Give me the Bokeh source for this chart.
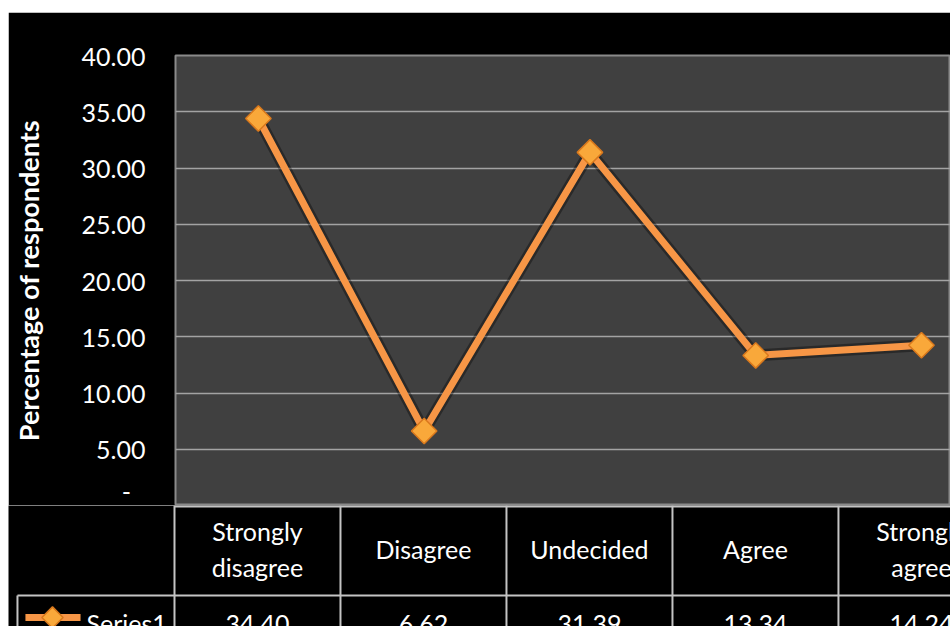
from bokeh.plotting import figure
from bokeh.layouts import row, column
from bokeh.models import Range1d, FixedTicker, Spacer, ColumnDataSource
from bokeh.core.properties import value
from bokeh.embed import file_html
from bokeh.resources import INLINE

# Survey responses
categories = ["Strongly disagree", "Disagree", "Undecided", "Agree", "Strongly agree"]
header_labels = ["Strongly\ndisagree", "Disagree", "Undecided", "Agree", "Strongly\nagree"]
series_name = "Series1"
values = [34.40, 6.62, 31.39, 13.34, 14.24]
value_labels = ["34.40", "6.62", "31.39", "13.34", "14.24"]
y_ticks = [0, 5, 10, 15, 20, 25, 30, 35, 40]
y_tick_labels = ["-\u2007", "5.00", "10.00", "15.00", "20.00", "25.00", "30.00", "35.00", "40.00"]

FONT = "Lato"
ORANGE = "#f79646"
GRID = "#a3a3a3"
TABLE_LINE = "#c4c4c4"

xs = [i + 0.5 for i in range(len(categories))]
src = ColumnDataSource(dict(x=xs, y=values, cat=categories, head=header_labels, lab=value_labels))

# ---- chart ----
p = figure(width=942, height=493, x_range=Range1d(0, 4.675), y_range=Range1d(0, 40),
           output_backend="svg", toolbar_location=None, x_axis_location=None,
           min_border_left=166, min_border_right=0, min_border_top=43, min_border_bottom=0,
           background_fill_color="#404040", border_fill_color="black",
           outline_line_color="#8a8a8a", outline_line_width=2, frame_align=False)
p.xgrid.visible = False
p.ygrid.ticker = FixedTicker(ticks=y_ticks[1:-1])
p.ygrid.grid_line_color = GRID
p.ygrid.grid_line_width = 1.5

ax = p.yaxis[0]
ax.ticker = FixedTicker(ticks=y_ticks)
ax.major_label_overrides = {t: s for t, s in zip(y_ticks, y_tick_labels)}
ax.axis_line_color = None
ax.major_tick_line_color = None
ax.minor_tick_line_color = None
ax.major_label_standoff = 24
ax.major_label_text_color = "white"
ax.major_label_text_font = FONT
ax.major_label_text_font_size = "25px"
ax.axis_label = "Percentage of respondents"
ax.axis_label_text_color = "white"
ax.axis_label_text_font = FONT
ax.axis_label_text_font_style = "bold"
ax.axis_label_text_font_size = "27px"
ax.axis_label_standoff = 34

# soft shadow under the series line
p.line("x", "y", source=src, line_color="black", line_width=12, line_alpha=0.35)
p.line("x", "y", source=src, line_color=ORANGE, line_width=7, line_join="miter")
p.scatter("x", "y", source=src, marker="square", angle=0.785, size=18,
          fill_color="#f9a83a", line_color="#d9781c", line_width=1.5)

# ---- data table beneath the chart ----
t = figure(width=942, height=121, x_range=Range1d(-1, 4.675), y_range=Range1d(121, 0),
           output_backend="svg", toolbar_location=None,
           x_axis_location=None, y_axis_location=None,
           min_border=0, background_fill_color="black", border_fill_color="black",
           outline_line_color=None, frame_align=False)
t.xgrid.visible = False
t.ygrid.visible = False

n = len(categories)
t.segment(x0=[0, -0.946], y0=[1, 90], x1=[4.675, 4.675], y1=[1, 90],
          line_color=TABLE_LINE, line_width=2)
t.segment(x0=list(range(n)), y0=[0] * n, x1=list(range(n)), y1=[121] * n,
          line_color=TABLE_LINE, line_width=2)
t.segment(x0=[-0.946], y0=[90], x1=[-0.946], y1=[121], line_color=TABLE_LINE, line_width=2)

t.text("x", 43, text="head", source=src, text_color="white", text_font=value(FONT),
       text_font_size="25px", text_align="center", text_baseline="middle",
       text_line_height=1.2)
t.text("x", 118, text="lab", source=src, text_color="white", text_font=value(FONT),
       text_font_size="25px", text_align="center", text_baseline="alphabetic")

# legend key for the series row
t.line([-0.898, -0.566], [112, 112], line_color=ORANGE, line_width=7)
t.scatter([-0.735], [112], marker="square", angle=0.785, size=15,
          fill_color="#f9a83a", line_color="#d9781c", line_width=1.5)
t.text([-0.53], [117], text=[series_name], text_color="white", text_font=value(FONT),
       text_font_size="25px", text_align="left", text_baseline="alphabetic")

layout = row(Spacer(width=8, height=626),
             column(Spacer(width=942, height=12), p, t, spacing=0), spacing=0)

open("out.html", "w").write(file_html(layout, INLINE))
